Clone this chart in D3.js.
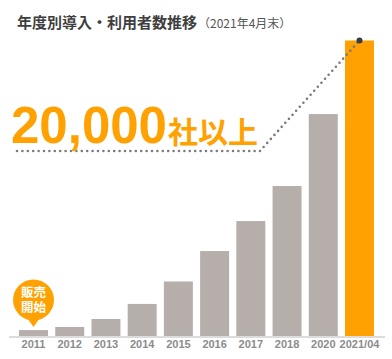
<!DOCTYPE html>
<html>
<head>
  <meta charset="utf-8">
  <title>年度別導入・利用者数推移</title>
  <script src="https://d3js.org/d3.v7.min.js"></script>
  <style>
    html, body { margin: 0; padding: 0; background: #fff; }
    svg { display: block; }
    text { font-family: "Liberation Sans", Arial, sans-serif; }
    .jp { font-family: "Noto Sans CJK JP", sans-serif; }
    .axis path, .axis line { display: none; }
    .axis text { font-size: 11px; font-weight: bold; fill: #8c8c8c; }
  </style>
</head>
<body>
<svg id="chart" width="392" height="359"></svg>
<script>
  var years = ["2011", "2012", "2013", "2014", "2015", "2016", "2017", "2018", "2020", "2021/04"];
  var users = [400, 610, 1150, 2170, 3690, 5750, 7780, 10150, 15020, 20000];
  var lineLevel = 12525; // height of the dotted guide under the big number

  var svg = d3.select("#chart");
  var baseY = 336;

  var x = d3.scaleBand()
    .domain(years)
    .range([15.4, 377.6])
    .paddingInner(0.2)
    .paddingOuter(0.1);

  var y = d3.scaleLinear()
    .domain([0, 20000])
    .range([baseY, 40.5]);

  svg.selectAll(".bar")
    .data(years)
    .enter().append("rect")
    .attr("class", "bar")
    .attr("x", function(d) { return x(d); })
    .attr("width", x.bandwidth())
    .attr("y", function(d, i) { return y(users[i]); })
    .attr("height", function(d, i) { return baseY - y(users[i]); })
    .attr("fill", function(d) { return d == "2021/04" ? "#ffa100" : "#b6aeaa"; });

  // baseline
  svg.append("rect")
    .attr("x", 9).attr("y", baseY)
    .attr("width", 376).attr("height", 2)
    .attr("fill", "#dcdcdc");

  svg.append("g")
    .attr("class", "axis")
    .attr("transform", "translate(0," + baseY + ")")
    .call(d3.axisBottom(x).tickSize(0).tickPadding(4));

  // title
  svg.append("text")
    .attr("class", "jp")
    .attr("x", 17).attr("y", 28)
    .attr("font-size", 15).attr("font-weight", "bold")
    .attr("fill", "#3f3f3f")
    .text("年度別導入・利用者数推移");

  svg.append("text")
    .attr("class", "jp")
    .attr("x", 198).attr("y", 28)
    .attr("font-size", 12)
    .attr("fill", "#555")
    .text("（2021年4月末）");

  // dotted guide line up to the last bar
  var lastX = x("2021/04") + x.bandwidth() / 2;
  var guide = d3.line()
    .x(function(d) { return d[0]; })
    .y(function(d) { return y(d[1]); });

  svg.append("path")
    .attr("d", guide([[17, lineLevel], [260, lineLevel], [lastX, 20000]]))
    .attr("fill", "none")
    .attr("stroke", "#7b7b7b")
    .attr("stroke-width", 2.6)
    .attr("stroke-linecap", "round")
    .attr("stroke-dasharray", "0 5.4");

  svg.append("circle")
    .attr("cx", lastX).attr("cy", y(20000))
    .attr("r", 3)
    .attr("fill", "#363c47");

  // big number
  svg.append("text")
    .attr("x", 11).attr("y", 143)
    .attr("font-size", 51).attr("font-weight", "bold")
    .attr("fill", "#ffa100")
    .text("20,000");

  svg.append("text")
    .attr("class", "jp")
    .attr("x", 168).attr("y", 143)
    .attr("font-size", 30).attr("font-weight", "bold")
    .attr("fill", "#ffa100")
    .text("社以上");

  // "sales start" badge over the first bar
  var badgeX = x("2011") + x.bandwidth() / 2;
  var badge = svg.append("g").attr("transform", "translate(" + badgeX + ",300)");

  badge.append("circle").attr("r", 20.5).attr("fill", "#ffa100");
  badge.append("path").attr("d", "M-7,17L0,27L7,17Z").attr("fill", "#ffa100");

  ["販売", "開始"].forEach(function(t, i) {
    badge.append("text")
      .attr("class", "jp")
      .attr("y", -3 + i * 15)
      .attr("text-anchor", "middle")
      .attr("font-size", 12.5).attr("font-weight", "bold")
      .attr("fill", "#fff")
      .text(t);
  });
</script>
</body>
</html>
